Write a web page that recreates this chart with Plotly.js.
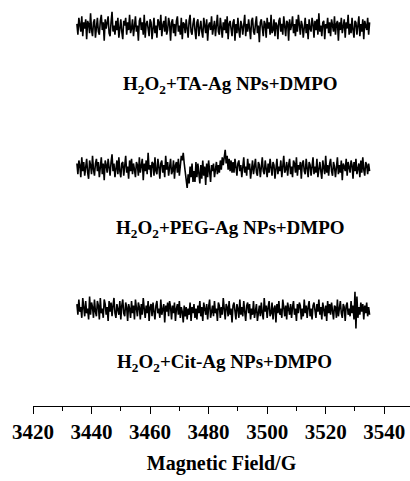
<!DOCTYPE html>
<html>
<head>
<meta charset="utf-8">
<script src="https://cdn.plot.ly/plotly-3.0.1.min.js"></script>
<style>html,body{margin:0;padding:0;background:#fff;}#chart{width:410px;height:481px;}</style>
</head>
<body>
<div id="chart"></div>
<script>
// Sweep start and point spacing of the recorded spectra (G)
var fieldStart = 3435;
var fieldStep = 1 / 3;

var labels = [
  'H<sub>2</sub>O<sub>2</sub>+TA-Ag NPs+DMPO',
  'H<sub>2</sub>O<sub>2</sub>+PEG-Ag NPs+DMPO',
  'H<sub>2</sub>O<sub>2</sub>+Cit-Ag NPs+DMPO'
];

var taSignal = [
2,-5,6,1,-3,7,-6,3,-1,5,-8,4,2,-4,9,-2,-6,3,5,-7,
1,6,-3,-5,4,8,-2,3,-9,5,-1,2,7,-4,-6,3,10,-3,1,-5,
4,-2,6,-7,2,5,-3,-8,4,1,6,-5,3,-2,8,-4,-1,5,-6,2,
7,-3,1,-9,4,6,-2,3,-5,8,-7,2,4,-1,-6,5,3,-8,2,6,
-4,1,-7,5,3,-2,8,-6,1,4,-3,7,-5,-2,6,2,-9,3,5,-4,
2,-6,4,7,-3,1,-5,6,-8,3,2,-4,5,-1,-7,4,8,-3,-5,2,
6,-2,-8,3,5,-6,1,4,-3,-7,6,2,-4,5,-9,1,3,-2,7,-5,
-1,4,-6,2,8,-3,-5,6,1,-7,3,-2,5,-4,7,-8,2,4,-1,-6,
3,5,-9,2,-4,6,-2,-7,4,1,-5,3,8,-6,2,-3,5,-1,-8,4,
6,-3,-5,2,7,-4,1,-10,3,5,-2,-6,4,2,-7,6,-1,3,-5,8,
-4,-2,5,-6,3,1,-8,4,6,-3,2,-5,7,-1,-6,4,3,-9,5,-2,
1,7,-4,2,-6,5,-3,8,-2,-5,4,1,-7,3,6,-4,2,-8,5,-1,
-3,6,2,-7,4,-2,5,-5,9,-3,1,-6,3,4,-8,2,-1,6,-4,3,
-6,5,1,-3,7,-5,2,4,-9,3,-2,6,-4,1,5,-7,3,-1,8,-5,
2,-4,6,-2,-7,4,3,-5,1,7,-6,2,-3,5,-8,4,1,-2,6,-5,
3];

var pegSignal = [
3,-4,5,2,-6,7,-2,4,-5,1,6,-3,-7,5,2,-4,8,-1,-5,3,
6,-2,4,-6,1,7,-4,3,-8,5,2,-3,6,-1,-5,4,9,-2,3,-6,
1,5,-4,7,-2,-6,3,4,-5,2,8,-3,1,-7,5,-2,6,-4,3,-1,
-6,4,2,-5,7,-3,1,6,-8,3,-2,5,-4,10,-1,2,-6,4,3,-5,
7,-2,-4,6,1,-7,3,5,-3,2,-6,8,-1,4,-5,3,6,-4,-2,5,
-7,2,4,-3,6,-5,1,8,5,10,3,-2,-8,-13,-4,-10,1,-6,3,-9,
-2,-9,4,-6,3,-3,-10,2,-7,5,-5,1,-11,3,-6,5,-4,-9,2,-2,
3,-6,-1,4,-4,2,-3,5,-1,7,2,10,12,3,8,-1,6,-2,5,-3,
4,-3,6,1,-5,3,5,-2,2,-6,4,7,-3,1,-5,6,-1,3,-7,2,
5,-4,1,6,-3,-5,4,2,-6,3,7,-2,-4,5,1,-6,3,-3,6,-1,
-5,4,2,-7,3,6,-4,1,-2,5,-6,3,8,-3,-1,4,-5,2,6,-4,
1,-6,5,3,-3,7,-5,2,-1,4,-7,3,5,-2,-4,6,1,-6,4,2,
-5,3,7,-4,1,-3,6,-6,2,4,-2,-7,5,1,-4,8,-3,2,-5,3,
6,-2,-5,4,1,-6,3,7,-4,2,-3,5,-8,3,1,-2,6,-5,4,-1,
-3,5,2,-7,4,-2,6,-4,1,3,-6,5,-3,7,-1,-5,4,2,-4,3,
-2];

var citSignal = [
4,-3,7,-1,2,-5,8,3,-4,6,-2,1,-6,9,-3,5,2,-5,7,-1,
-4,6,3,-6,8,-2,1,-5,7,4,-3,2,-7,6,-1,5,-4,3,8,-2,
-5,4,1,-3,6,-6,3,7,-2,-4,5,2,-7,4,1,-5,6,-2,3,-6,
7,-1,-4,5,2,-6,4,-3,8,1,-5,3,-2,6,-7,2,4,-4,5,-1,
-6,3,6,-2,1,-5,7,-3,2,4,-8,3,-1,5,-4,6,2,-6,3,-2,
5,-7,1,4,-3,6,-5,2,-1,-8,3,-4,2,-6,1,-3,5,-7,2,-2,
4,-5,1,-6,3,-2,6,-4,2,-7,5,1,-3,4,-6,2,7,-5,-1,3,
-4,6,-2,1,-7,5,3,-5,2,-3,8,-1,-6,4,2,-4,6,-3,1,-8,
3,5,-2,-6,4,1,-5,7,-3,2,-4,6,-1,-7,3,5,-2,4,-6,1,
-3,6,-5,2,4,-7,1,3,-4,5,-2,-6,8,-1,3,-5,2,6,-4,-2,
5,-6,1,3,-8,4,-2,6,-3,1,-5,7,2,-4,3,-6,5,-1,-3,4,
-5,2,6,-3,1,-7,4,-2,5,3,-6,1,-4,7,-2,3,-5,2,6,-4,
1,-6,3,5,-2,-5,4,-1,7,-3,2,-6,5,1,-4,3,-7,6,-2,4,
-3,5,-1,-6,3,2,-5,7,-4,1,6,-2,-5,4,2,-7,3,5,-3,1,
-4,6,-2,3,-6,12,-12,9,-5,2,-3,5,-1,4,-6,3,-2,5,-4,2,
-3];

var tickVals = [3420, 3440, 3460, 3480, 3500, 3520, 3540];
var tickText = ['3420', '3440', '3460', '3480', '3500', '3520', '3540'];

function fieldAxis(n) {
  var f = [];
  for (var i = 0; i < n; i++) f.push(fieldStart + i * fieldStep);
  return f;
}

var serif = 'Liberation Serif, Times New Roman, serif';
var lineStyle = {color: '#000', width: 1.6};

var traces = [
  {x: fieldAxis(taSignal.length), y: taSignal, yaxis: 'y', type: 'scatter', mode: 'lines', line: lineStyle, hoverinfo: 'skip'},
  {x: fieldAxis(pegSignal.length), y: pegSignal, yaxis: 'y2', type: 'scatter', mode: 'lines', line: lineStyle, hoverinfo: 'skip'},
  {x: fieldAxis(citSignal.length), y: citSignal, yaxis: 'y3', type: 'scatter', mode: 'lines', line: lineStyle, hoverinfo: 'skip'}
];

function hiddenY(domain) {
  return {domain: domain, range: [-17, 17], visible: false, fixedrange: true};
}

var labelFont = {family: serif, size: 19, color: '#000', weight: 'bold'};

var layout = {
  width: 410, height: 481,
  margin: {l: 33, r: 0, t: 0, b: 75},
  paper_bgcolor: '#fff', plot_bgcolor: '#fff',
  showlegend: false,
  xaxis: {
    range: [3420, 3548.8],
    anchor: 'free', position: 0,
    showgrid: false, zeroline: false,
    showline: true, linecolor: '#000', linewidth: 1,
    ticks: 'outside', ticklen: 7, tickwidth: 1, tickcolor: '#000',
    tickvals: tickVals, ticktext: tickText,
    tickfont: {family: serif, size: 21, color: '#000', weight: 'bold'},
    minor: {dtick: 10, tick0: 3420, ticks: 'outside', ticklen: 4, tickwidth: 1, tickcolor: '#000', showgrid: false},
    title: {text: 'Magnetic Field/G', font: {family: serif, size: 20, color: '#000', weight: 'bold'}, standoff: 12}
  },
  yaxis: hiddenY([0.8695, 0.9975]),
  yaxis2: hiddenY([0.522, 0.650]),
  yaxis3: hiddenY([0.172, 0.300]),
  annotations: [
    {text: labels[0], xref: 'x', yref: 'paper', x: 3487.5, y: 0.79, showarrow: false, xanchor: 'center', yanchor: 'middle', font: labelFont},
    {text: labels[1], xref: 'x', yref: 'paper', x: 3487.5, y: 0.436, showarrow: false, xanchor: 'center', yanchor: 'middle', font: labelFont},
    {text: labels[2], xref: 'x', yref: 'paper', x: 3485.5, y: 0.106, showarrow: false, xanchor: 'center', yanchor: 'middle', font: labelFont}
  ]
};

Plotly.newPlot('chart', traces, layout, {staticPlot: true, displayModeBar: false});
</script>
</body>
</html>
